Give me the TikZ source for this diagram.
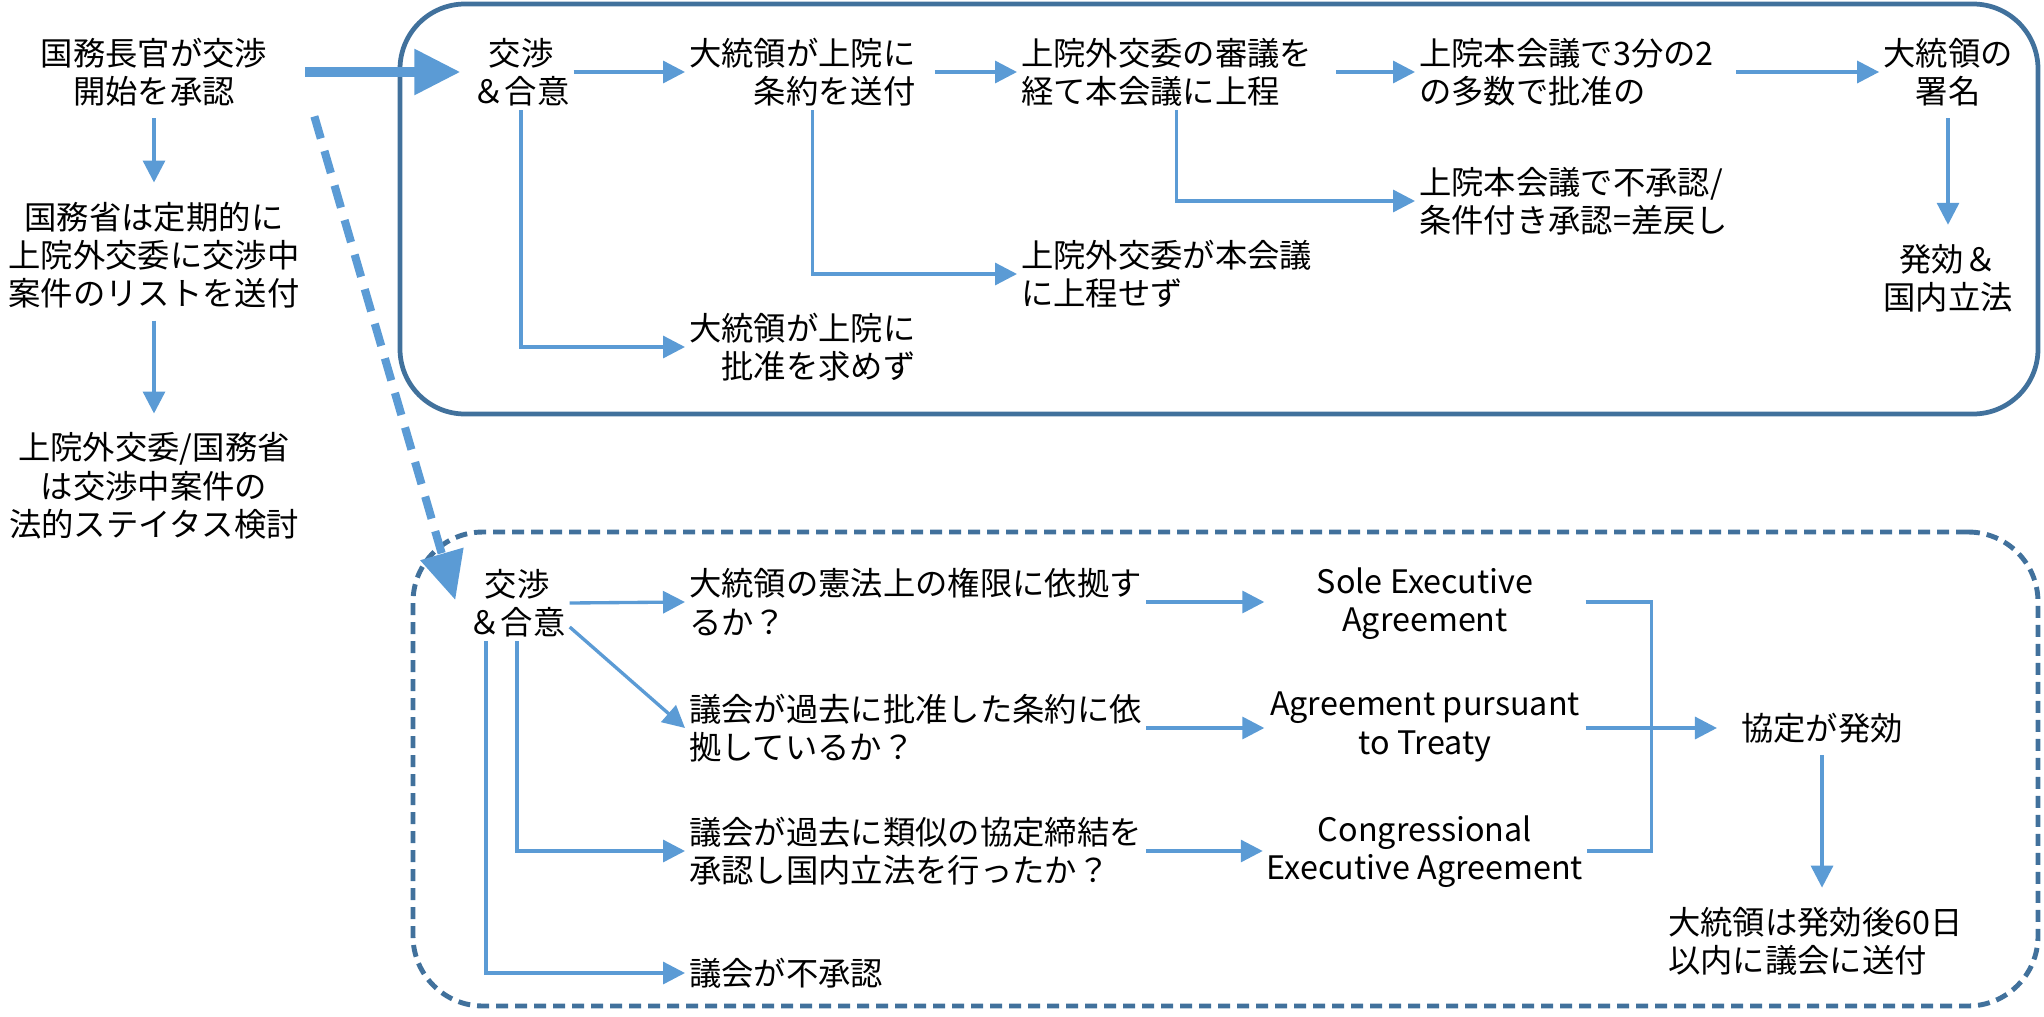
\documentclass[tikz,border=0pt]{standalone}
\usepackage{fontspec}
\setmainfont{Noto Sans CJK JP}
\usetikzlibrary{arrows.meta}
\definecolor{flowBlue}{HTML}{5B9BD5}
\definecolor{boxBlue}{HTML}{41719C}
\begin{document}
\begin{tikzpicture}[
		font=\fontsize{9.2pt}{10.9pt}\selectfont,
		txt/.style={inner sep=1pt, align=center},
		flow/.style={draw=flowBlue, line width=0.95pt, -{Triangle[length=2.2mm,width=2.2mm]}},
		downFlow/.style={flow, shorten <=0.08cm, shorten >=0.15cm},
		joinLine/.style={draw=flowBlue, line width=0.95pt},
		bigFlow/.style={draw=flowBlue, line width=2.6pt, -{Triangle[length=4.6mm,width=4.4mm]}},
		dashFlow/.style={draw=flowBlue, line width=2.3pt, dash pattern=on 2.3mm off 1.3mm, -{Triangle[length=4.8mm,width=4.3mm]}}]
		
		\useasboundingbox (0,0) rectangle (20.44,-10.16);
		
		%Outer boxes
		\node (treatyBox) at (12.19,-2.09) [rectangle, draw=boxBlue, line width=1.35pt, rounded corners=0.65cm, minimum width=16.38cm, 
		minimum height=4.10cm]{};
		\node (agreementBox) at (12.255,-7.69) [rectangle, draw=boxBlue, line width=1.4pt, dash pattern=on 1.2mm off 0.7mm, 
		rounded corners=0.7cm, minimum width=16.25cm, minimum height=4.74cm]{};
		
		%Left column
		\node (secApprove) at (1.54,-0.72) [txt]{国務長官が交渉\\開始を承認};
		\node (listSend) at (1.54,-2.55) [txt]{国務省は定期的に\\上院外交委に交渉中\\案件のリストを送付};
		\node (legalReview) at (1.54,-4.86) [txt]{上院外交委/国務省\\は交渉中案件の\\法的ステイタス検討};
		
		\draw[downFlow] (secApprove.south) -- (listSend.north);
		\draw[downFlow] (listSend.south) -- (legalReview.north);
		
		%Treaty route
		\node (treatyNego) at (5.21,-0.72) [txt]{交渉\\＆合意};
		\node (sendTreaty) at (6.85,-0.72) [txt, anchor=west, align=right]{大統領が上院に\\条約を送付};
		\node (committee) at (10.17,-0.72) [txt, anchor=west, align=left]{上院外交委の審議を\\経て本会議に上程};
		\node (plenary) at (14.15,-0.72) [txt, anchor=west, align=left]{上院本会議で3分の2\\の多数で批准の};
		\node (signature) at (19.48,-0.72) [txt]{大統領の\\署名};
		\node (effectLaw) at (19.48,-2.78) [txt]{発効＆\\国内立法};
		\node (plenaryNo) at (14.15,-2.01) [txt, anchor=west, align=left]{上院本会議で不承認/\\条件付き承認=差戻し};
		\node (noFloor) at (10.17,-2.74) [txt, anchor=west, align=left]{上院外交委が本会議\\に上程せず};
		\node (noRatify) at (6.85,-3.47) [txt, anchor=west, align=right]{大統領が上院に\\批准を求めず};
		
		\draw[bigFlow, shorten <=0.34cm, shorten >=0.08cm] (secApprove.east) -- (treatyNego.west);
		\draw[flow] (treatyNego.east) -- (sendTreaty.west);
		\draw[flow, shorten <=0.15cm] (sendTreaty.east) -- (committee.west);
		\draw[flow, shorten <=0.2cm] (committee.east) -- (plenary.west);
		\draw[flow, shorten <=0.18cm] (plenary.east) -- (signature.west);
		\draw[downFlow] (signature.south) -- (effectLaw.north);
		\draw[flow] (treatyNego.south) |- (noRatify.west);
		\draw[flow] ([xshift=0.1cm]sendTreaty.south) |- (noFloor.west);
		\draw[flow] ([xshift=0.1cm]committee.south) |- (plenaryNo.west);
		
		%Executive agreement route
		\node (execNego) at (5.17,-6.03) [txt]{交渉\\＆合意};
		\node (soleQ) at (6.85,-6.02) [txt, anchor=west, align=left]{大統領の憲法上の権限に依拠す\\るか？};
		\node (treatyQ) at (6.85,-7.28) [txt, anchor=west, align=left]{議会が過去に批准した条約に依\\拠しているか？};
		\node (congressQ) at (6.85,-8.51) [txt, anchor=west, align=left]{議会が過去に類似の協定締結を\\承認し国内立法を行ったか？};
		\node (congressNo) at (6.85,-9.73) [txt, anchor=west]{議会が不承認};
		
		\node (soleAgr) at (14.25,-6.04) [txt, minimum width=3.2cm]{Sole Executive\\Agreement};
		\node (pursuantAgr) at (14.25,-7.27) [txt, minimum width=3.2cm]{Agreement pursuant\\to Treaty};
		\node (congressAgr) at (14.25,-8.52) [txt, minimum width=3.2cm]{Congressional\\Executive Agreement};
		\node (agrEffect) at (18.22,-7.28) [txt]{協定が発効};
		\node (reportCongress) at (16.64,-9.41) [txt, anchor=west, align=left]{大統領は発効後60日\\以内に議会に送付};
		
		\draw[dashFlow] ([shift={(0.43,-0.06)}]secApprove.south east) -- ([xshift=-0.09cm,yshift=0.03cm]execNego.west);
		\draw[flow] (execNego.east) -- (soleQ.west);
		\draw[flow] ([yshift=-0.24cm]execNego.east) -- (treatyQ.west);
		\draw[flow] (execNego.south) |- (congressQ.west);
		\draw[flow] ([xshift=-0.31cm]execNego.south) |- (congressNo.west);
		\draw[flow] (soleQ.east) -- (soleQ.east -| soleAgr.west);
		\draw[flow] (treatyQ.east) -- (treatyQ.east -| pursuantAgr.west);
		\draw[flow] (congressQ.east) -- (congressQ.east -| congressAgr.west);
		\draw[joinLine] (soleAgr.east |- soleQ.east) -- ++(0.66,0) |- (congressAgr.east |- congressQ.east);
		\draw[flow, shorten >=0.2cm] (pursuantAgr.east |- agrEffect.west) -- (agrEffect.west);
		\draw[downFlow] (agrEffect.south) -- (agrEffect.south |- reportCongress.north);
		
\end{tikzpicture}
\end{document}
